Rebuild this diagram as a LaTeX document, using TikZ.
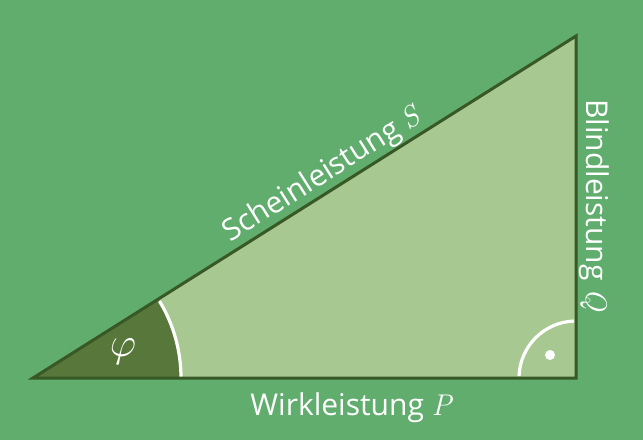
\documentclass[tikz,border=0pt]{standalone}
\usepackage{fontspec}
\setmainfont{Open Sans}
\newfontfamily\lmroman{Latin Modern Roman}
\newcommand{\qsym}[1]{{\lmroman\itshape #1}}
\usetikzlibrary{calc}
\definecolor{bg}{RGB}{96,173,110}
\definecolor{tri}{RGB}{168,200,146}
\definecolor{edge}{RGB}{56,88,38}
\definecolor{ang}{RGB}{87,120,58}
\begin{document}
\begin{tikzpicture}[x=1pt,y=-1pt,
  lbl/.style={text=white,font=\fontsize{30}{34}\selectfont,inner sep=2pt},
  whitearc/.style={draw=white,line width=3.2pt}]
\fill[bg] (0,0) rectangle (643,440);
\useasboundingbox (0,0) rectangle (643,440);
\coordinate (A) at (33,378);
\coordinate (B) at (576,378);
\coordinate (C) at (576,36);
\fill[tri] (A) -- (B) -- (C) -- cycle;
% angle sector
\fill[ang] (A) -- ++(148,0) arc[start angle=0,end angle=-32.2,radius=148] -- cycle;
\draw[whitearc] (A) ++(148,0) arc[start angle=0,end angle=-31.3,radius=148];
\draw[edge,line width=3pt,line join=miter] (A) -- (B) -- (C) -- cycle;
% right angle
\draw[whitearc] (B) ++(182:57) arc[start angle=182,end angle=268,radius=57];
\fill[white] (550,355) circle[radius=5];
\node[text=white,font=\fontsize{24}{28}\selectfont,scale=1.65] (phi) at (123,352) {$\varphi$};
\node[lbl,anchor=south,rotate=32.2] (S) at ($(A)!0.55!(C)$) {Scheinleistung \qsym{S}};
\node[lbl,anchor=south,rotate=-90] (Q) at (577,205) {Blindleistung \qsym{Q}};
\node[lbl,anchor=base] (P) at (351,415) {Wirkleistung \qsym{P}};
\end{tikzpicture}
\end{document}
